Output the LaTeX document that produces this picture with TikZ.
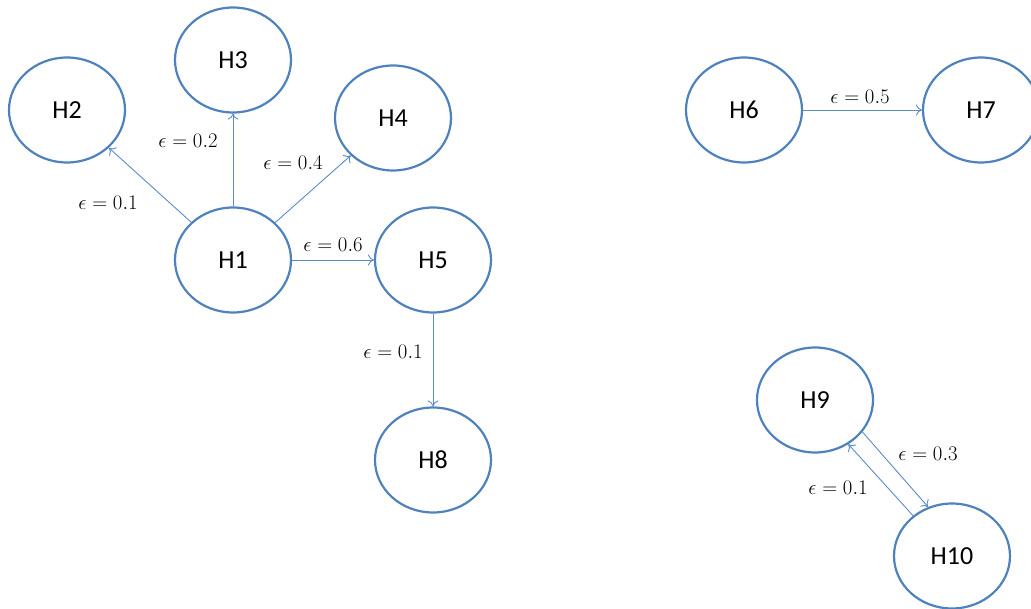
\documentclass[tikz,border=0pt]{standalone}
\usepackage{fontspec}
\setmainfont{Carlito}
\usetikzlibrary{shapes.geometric,arrows.meta}
\definecolor{nodeblue}{HTML}{4F81BD}
\definecolor{edgeblue}{HTML}{5B8BC9}
\begin{document}
\begin{tikzpicture}[x=1pt,y=-1pt,
  hnode/.style={ellipse,draw=nodeblue,line width=2.2pt,minimum width=116pt,minimum height=105pt,inner sep=0pt,font=\fontsize{26}{30}\selectfont},
  edge/.style={draw=edgeblue,line width=0.9pt,-{To[length=6pt,width=11pt]}},
  lab/.style={font=\fontsize{20}{24}\selectfont,inner sep=1pt}]
\useasboundingbox (0,0) rectangle (1031,609);
\node[hnode] (H1) at (233,260) {H1};
\node[hnode] (H2) at (67,110) {H2};
\node[hnode] (H3) at (233,60) {H3};
\node[hnode] (H4) at (393,118) {H4};
\node[hnode] (H5) at (433,260) {H5};
\node[hnode] (H8) at (433,460) {H8};
\node[hnode] (H6) at (744,110) {H6};
\node[hnode] (H7) at (981,110) {H7};
\node[hnode] (H9) at (815,400) {H9};
\node[hnode] (H10) at (952,556) {H10};
\draw[edge] (H1) -- (H2);
\draw[edge] (H1) -- (H3);
\draw[edge] (H1) -- (H4);
\draw[edge] (H1) -- (H5);
\draw[edge] (H5) -- (H8);
\draw[edge] (H6) -- (H7);
\draw[edge] (H9.-34) -- (H10.116);
\draw[edge] (H10.134) -- (H9.-53);
\node[lab] (l12) at (108,203) {$\epsilon = 0.1$};
\node[lab] (l13) at (188,141) {$\epsilon = 0.2$};
\node[lab] (l14) at (293,163) {$\epsilon = 0.4$};
\node[lab] (l15) at (333,245) {$\epsilon = 0.6$};
\node[lab] (l58) at (393,352) {$\epsilon = 0.1$};
\node[lab] (l67) at (860,97) {$\epsilon = 0.5$};
\node[lab] (l910) at (928,454) {$\epsilon = 0.3$};
\node[lab] (l109) at (838,488) {$\epsilon = 0.1$};
\end{tikzpicture}
\end{document}
